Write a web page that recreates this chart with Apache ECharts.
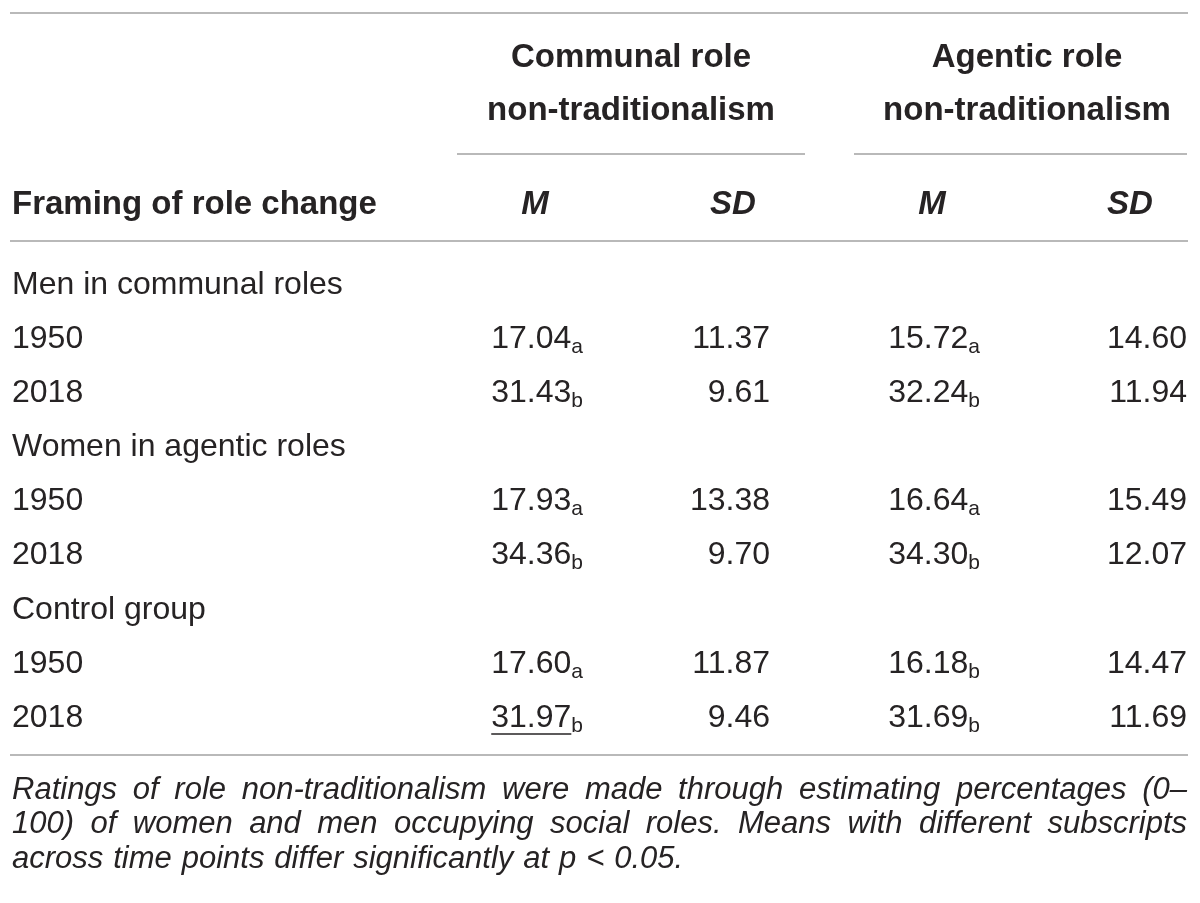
<!DOCTYPE html>
<html lang="en">
<head>
<meta charset="UTF-8">
<title>Role non-traditionalism by framing</title>
<script src="https://cdn.jsdelivr.net/npm/echarts@6/dist/echarts.min.js"></script>
<style>
  html, body { margin: 0; background: #fff; }
  #main { width: 1200px; height: 903px; }
</style>
</head>
<body>
<div id="main"></div>
<script>
// ---- table content ----
var groups = ['Men in communal roles', 'Women in agentic roles', 'Control group'];
var years = ['1950', '2018'];
var communalM = [17.04, 31.43, 17.93, 34.36, 17.60, 31.97];
var communalMSub = ['a', 'b', 'a', 'b', 'a', 'b'];
var communalSD = [11.37, 9.61, 13.38, 9.70, 11.87, 9.46];
var agenticM = [15.72, 32.24, 16.64, 34.30, 16.18, 31.69];
var agenticMSub = ['a', 'b', 'a', 'b', 'b', 'b'];
var agenticSD = [14.60, 11.94, 15.49, 12.07, 14.47, 11.69];
var underlinedCommunalM = [5];   // 2018 control group mean is underlined

var spanHeaders = [['Communal role', 'non-traditionalism'], ['Agentic role', 'non-traditionalism']];
var stubHeader = 'Framing of role change';
var statHeaders = ['M', 'SD', 'M', 'SD'];
var footnote = [
  'Ratings of role non-traditionalism were made through estimating percentages (0\u2013',
  '100) of women and men occupying social roles. Means with different subscripts',
  'across time points differ significantly at p < 0.05.'
];

// ---- layout ----
var FONT = '"Liberation Sans", Arial, sans-serif';
var INK = '#262324';
var RULE = '#b9b9b9';
var colRight = [583, 770, 980, 1187];      // right edge of each value column
var statCenter = [535, 733, 932, 1130];    // centre of M / SD headers
var spanCenter = [631, 1027];
var spanRule = [[457, 805], [854, 1187]];

// rows: group label followed by its years
var rowLabels = [];
var dataRows = [];
groups.forEach(function (g) {
  rowLabels.push(g);
  years.forEach(function (y) {
    dataRows.push(rowLabels.length);
    rowLabels.push(y);
  });
});

var measureCtx = document.createElement('canvas').getContext('2d');
function textWidth(str, font) {
  measureCtx.font = font;
  return measureCtx.measureText(str).width;
}

var numFont = '32px ' + FONT;
var subFont = '21px ' + FONT;
var richStyles = {
  n: { fontSize: 32, fontFamily: FONT, color: INK },
  s: { fontSize: 21, fontFamily: FONT, color: INK, padding: [16, 0, 0, 0] }
};

function cellText(x, y, str) {
  return {
    type: 'text', x: x, y: y,
    style: { text: str, font: numFont, fill: INK, align: 'right', verticalAlign: 'middle' }
  };
}
function meanText(x, y, val, sub) {
  return {
    type: 'text', x: x, y: y,
    style: {
      text: '{n|' + val + '}{s|' + sub + '}', rich: richStyles,
      fill: INK, align: 'right', verticalAlign: 'middle'
    }
  };
}

function renderRow(params, api) {
  var i = params.dataIndex;
  var y = api.coord([0, api.value(1)])[1];
  var xs = colRight.map(function (c) { return api.coord([c, 0])[0]; });
  var children = [
    meanText(xs[0], y, communalM[i].toFixed(2), communalMSub[i]),
    cellText(xs[1], y, communalSD[i].toFixed(2)),
    meanText(xs[2], y, agenticM[i].toFixed(2), agenticMSub[i]),
    cellText(xs[3], y, agenticSD[i].toFixed(2))
  ];
  if (underlinedCommunalM.indexOf(i) >= 0) {
    var sw = textWidth(communalMSub[i], subFont);
    var nw = textWidth(communalM[i].toFixed(2), numFont);
    var x2 = xs[0] - sw;
    children.push({
      type: 'line',
      shape: { x1: x2 - nw, y1: y + 16, x2: x2, y2: y + 16 },
      style: { stroke: INK, lineWidth: 1.5 }
    });
  }
  return { type: 'group', children: children };
}

// ---- header, rules and note ----
var graphics = [];
function rule(x1, x2, y) {
  graphics.push({ type: 'line', shape: { x1: x1, y1: y, x2: x2, y2: y }, style: { stroke: RULE, lineWidth: 2 } });
}
rule(10, 1188, 13);
rule(10, 1188, 241);
rule(10, 1188, 755);
spanRule.forEach(function (r) { rule(r[0], r[1], 154); });

var boldFont = 'bold 33px ' + FONT;
spanHeaders.forEach(function (lines, k) {
  [58, 111].forEach(function (y, j) {
    graphics.push({
      type: 'text', x: spanCenter[k], y: y,
      style: { text: lines[j], font: boldFont, fill: INK, align: 'center', verticalAlign: 'middle' }
    });
  });
});
graphics.push({
  type: 'text', x: 12, y: 205,
  style: { text: stubHeader, font: boldFont, fill: INK, align: 'left', verticalAlign: 'middle' }
});
statHeaders.forEach(function (h, k) {
  graphics.push({
    type: 'text', x: statCenter[k], y: 205,
    style: { text: h, font: 'italic bold 33px ' + FONT, fill: INK, align: 'center', verticalAlign: 'middle' }
  });
});

// note: first two lines justified across the table width
var noteFont = 'italic 31px ' + FONT;
var noteY = [790, 824, 859];
footnote.forEach(function (line, j) {
  var left = 12, right = 1187;
  var words = line.split(' ');
  var widths = words.map(function (w) { return textWidth(w, noteFont); });
  var total = widths.reduce(function (a, b) { return a + b; }, 0);
  var gap = textWidth(' ', noteFont) * 1.15;
  if (j < footnote.length - 1) {
    gap = (right - left - total) / (words.length - 1);
  }
  var x = left;
  words.forEach(function (w, k) {
    graphics.push({
      type: 'text', x: x, y: noteY[j],
      style: { text: w, font: noteFont, fill: INK, align: 'left', verticalAlign: 'middle' }
    });
    x += widths[k] + gap;
  });
});

var chart = echarts.init(document.getElementById('main'));
chart.setOption({
  backgroundColor: '#fff',
  animation: false,
  grid: { left: 0, right: 0, top: 258, bottom: 158 },
  xAxis: { type: 'value', min: 0, max: 1200, show: false },
  yAxis: {
    type: 'category', data: rowLabels, inverse: true,
    axisLine: { show: false }, axisTick: { show: false }, splitLine: { show: false },
    axisLabel: {
      inside: true, margin: 12, align: 'left', interval: 0,
      fontSize: 32, fontFamily: FONT, color: INK
    }
  },
  series: [{
    type: 'custom',
    coordinateSystem: 'cartesian2d',
    data: dataRows.map(function (r) { return [0, r]; }),
    renderItem: renderRow
  }],
  graphic: graphics
});
</script>
</body>
</html>
